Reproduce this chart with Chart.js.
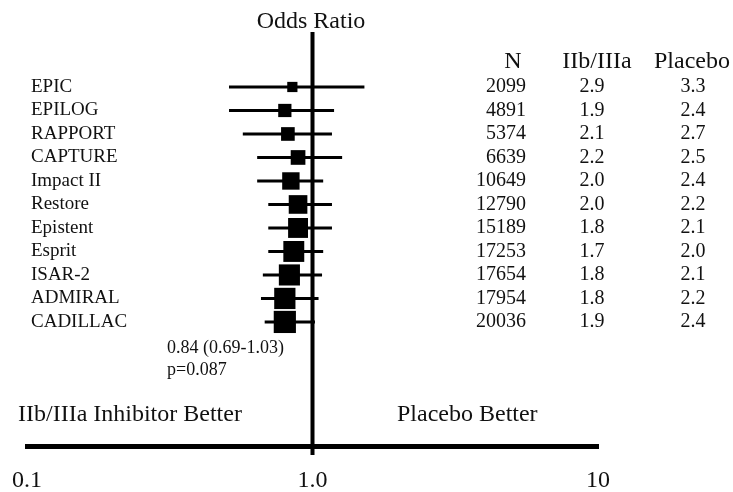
<!DOCTYPE html>
<html>
<head>
<meta charset="utf-8">
<title>Odds Ratio</title>
<script src="https://cdn.jsdelivr.net/npm/chart.js@4.4.0/dist/chart.umd.min.js"></script>
<style>
  body { margin: 0; background: #fff; }
  #wrap { width: 733px; height: 492px; }
</style>
</head>
<body>
<div id="wrap"><canvas id="forestChart" width="733" height="492"></canvas></div>
<script>
// data
var trials = ['EPIC', 'EPILOG', 'RAPPORT', 'CAPTURE', 'Impact II', 'Restore', 'Epistent', 'Esprit', 'ISAR-2', 'ADMIRAL', 'CADILLAC'];
var patients = [2099, 4891, 5374, 6639, 10649, 12790, 15189, 17253, 17654, 17954, 20036];
var rateIIb = [2.9, 1.9, 2.1, 2.2, 2.0, 2.0, 1.8, 1.7, 1.8, 1.8, 1.9];
var ratePlacebo = [3.3, 2.4, 2.7, 2.5, 2.4, 2.2, 2.1, 2.0, 2.1, 2.2, 2.4];
var oddsRatio = [0.85, 0.80, 0.82, 0.89, 0.84, 0.89, 0.89, 0.86, 0.83, 0.80, 0.80];
var ciLow = [0.51, 0.51, 0.57, 0.64, 0.64, 0.70, 0.70, 0.70, 0.67, 0.66, 0.68];
var ciHigh = [1.52, 1.19, 1.17, 1.27, 1.09, 1.17, 1.17, 1.09, 1.08, 1.05, 1.02];
var tickValues = [0.1, 1, 10];
var tickLabels = ['0.1', '1.0', '10'];
var pooledText = ['0.84 (0.69-1.03)', 'p=0.087'];

var serif = '"Liberation Serif", "Times New Roman", serif';
var yTop = -2.34, yBottom = 15.28;

var textPlugin = {
  id: 'forestText',
  afterDraw: function(chart) {
    var ctx = chart.ctx;
    var ys = chart.scales.y;
    ctx.save();
    ctx.fillStyle = '#111';
    ctx.textBaseline = 'middle';

    // headers
    ctx.font = '24px ' + serif;
    ctx.textAlign = 'center';
    ctx.fillText('Odds Ratio', 311, 22);
    ctx.fillText('N', 513, 62);
    ctx.fillText('IIb/IIIa', 597, 62);
    ctx.fillText('Placebo', 692, 62);

    // rows
    for (var i = 0; i < trials.length; i++) {
      var py = ys.getPixelForValue(i);
      ctx.font = '19px ' + serif;
      ctx.textAlign = 'left';
      ctx.fillText(trials[i], 31, py);
      ctx.font = '20px ' + serif;
      ctx.textAlign = 'right';
      ctx.fillText(String(patients[i]), 526, py);
      ctx.textAlign = 'center';
      ctx.fillText(rateIIb[i].toFixed(1), 592, py);
      ctx.fillText(ratePlacebo[i].toFixed(1), 693, py);
    }

    // pooled estimate
    ctx.font = '18px ' + serif;
    ctx.textAlign = 'left';
    ctx.fillText(pooledText[0], 167, 348);
    ctx.fillText(pooledText[1], 167, 370);

    // direction labels
    ctx.font = '24px ' + serif;
    ctx.fillText('IIb/IIIa Inhibitor Better', 18, 415);
    ctx.fillText('Placebo Better', 397, 415);
    ctx.restore();
  }
};

var datasets = [];
// boxes, sized by trial size
datasets.push({
  data: oddsRatio.map(function(v, i) { return { x: v, y: i }; }),
  pointStyle: 'rect',
  pointRadius: patients.map(function(n) { return (4.5 + 0.125 * Math.sqrt(n)) / Math.SQRT2; }),
  backgroundColor: '#000',
  borderWidth: 0,
  order: 0
});
// confidence intervals
for (var i = 0; i < trials.length; i++) {
  datasets.push({
    data: [{ x: ciLow[i], y: i }, { x: ciHigh[i], y: i }],
    showLine: true,
    borderColor: '#000',
    borderWidth: 3,
    pointRadius: 0,
    order: 1
  });
}
// line of no effect
datasets.push({
  data: [{ x: 1, y: yTop }, { x: 1, y: 15.66 }],
  showLine: true,
  borderColor: '#000',
  borderWidth: 4,
  pointRadius: 0,
  clip: false,
  order: 1
});

new Chart(document.getElementById('forestChart'), {
  type: 'scatter',
  data: { datasets: datasets },
  options: {
    responsive: false,
    animation: false,
    layout: { padding: { top: 32, left: 27, right: 135, bottom: 0 } },
    plugins: { legend: { display: false }, tooltip: { enabled: false } },
    scales: {
      x: {
        type: 'logarithmic',
        min: 0.1,
        max: 10,
        afterBuildTicks: function(axis) {
          axis.ticks = tickValues.map(function(v) { return { value: v }; });
        },
        afterFit: function(axis) {
          axis.height = 46;
          axis.paddingLeft = 0;
          axis.paddingRight = 0;
        },
        grid: { display: false, drawTicks: false },
        border: { display: true, width: 5, color: '#000' },
        ticks: {
          autoSkip: false,
          maxRotation: 0,
          padding: 20,
          color: '#111',
          font: { family: serif, size: 24 },
          callback: function(value, index) { return tickLabels[index]; }
        }
      },
      y: {
        type: 'linear',
        reverse: true,
        min: yTop,
        max: yBottom,
        display: false
      }
    }
  },
  plugins: [textPlugin]
});
</script>
</body>
</html>
